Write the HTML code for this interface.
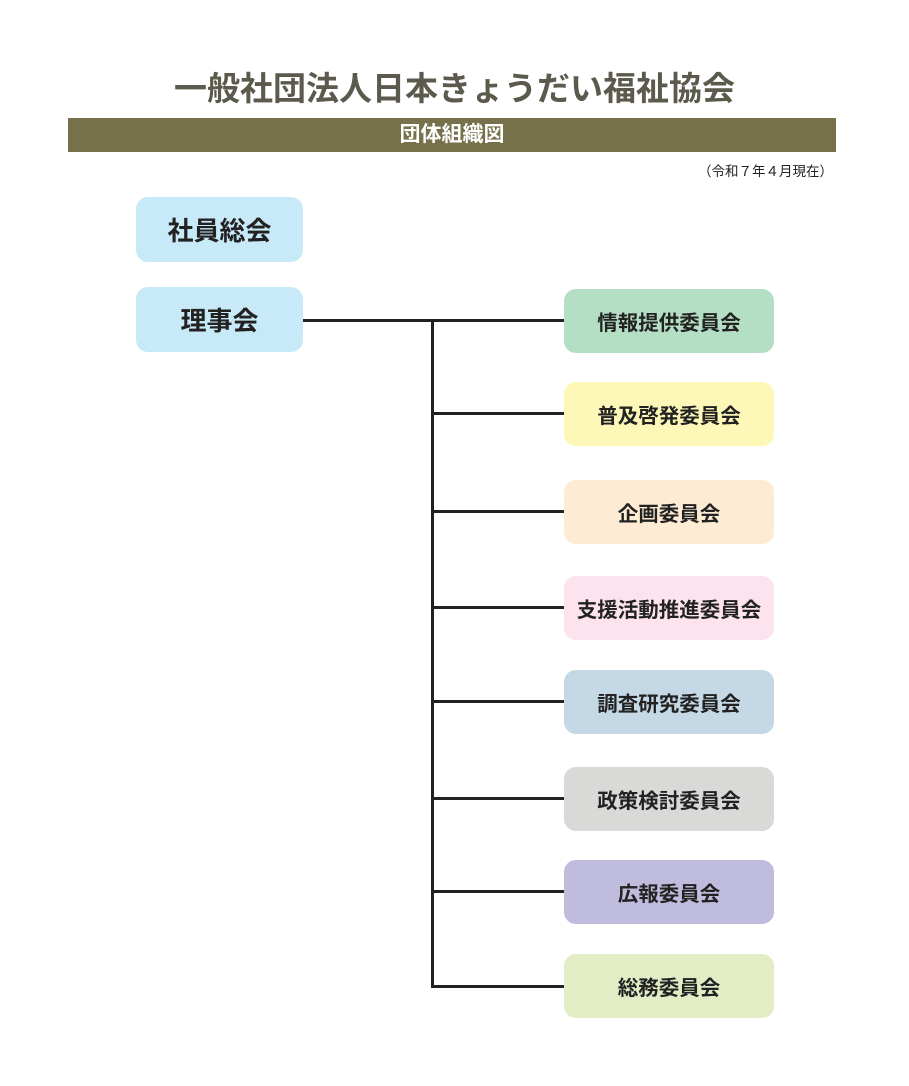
<!DOCTYPE html>
<html><head><meta charset="utf-8"><style>
body{margin:0;width:909px;height:1086px;background:#fff;position:relative;font-family:"Liberation Sans","Noto Sans CJK JP",sans-serif;overflow:hidden}
.a{position:absolute}
.t{left:0;width:909px;top:69px;text-align:center;font-size:33px;font-weight:bold;color:#5b5a4c;line-height:40px}
.band{left:68px;top:118px;width:768px;height:34px;background:#76714a;color:#fff;font-weight:bold;font-size:21px;text-align:center;line-height:34px}
.d{right:76px;top:160px;font-size:13.5px;color:#222}
.b{border-radius:12px;display:flex;align-items:center;justify-content:center;font-weight:bold;color:#222}
.l{left:136px;width:167px;height:65px;background:#c8e9f8;font-size:26px}
.r{left:564px;width:210px;height:64px;font-size:20.5px}
.h{background:#222;height:3px}
</style></head><body>
<div class="a t">一般社団法人日本きょうだい福祉協会</div>
<div class="a band">団体組織図</div>
<div class="a d">（令和７年４月現在）</div>
<div class="a b l" style="top:197px">社員総会</div>
<div class="a b l" style="top:287px">理事会</div>
<div class="a h" style="left:303px;top:319px;width:261px"></div>
<div class="a" style="left:431px;top:319px;width:3px;height:669px;background:#222"></div>
<div class="a h" style="left:431px;top:412px;width:133px"></div>
<div class="a h" style="left:431px;top:510px;width:133px"></div>
<div class="a h" style="left:431px;top:606px;width:133px"></div>
<div class="a h" style="left:431px;top:700px;width:133px"></div>
<div class="a h" style="left:431px;top:797px;width:133px"></div>
<div class="a h" style="left:431px;top:890px;width:133px"></div>
<div class="a h" style="left:431px;top:985px;width:133px"></div>
<div class="a b r" style="top:289px;background:#b5dfc5">情報提供委員会</div>
<div class="a b r" style="top:382px;background:#fdf8b8">普及啓発委員会</div>
<div class="a b r" style="top:480px;background:#fdebd3">企画委員会</div>
<div class="a b r" style="top:576px;background:#fce3ee">支援活動推進委員会</div>
<div class="a b r" style="top:670px;background:#c4d8e5">調査研究委員会</div>
<div class="a b r" style="top:767px;background:#d9dad8">政策検討委員会</div>
<div class="a b r" style="top:860px;background:#bfbcdd">広報委員会</div>
<div class="a b r" style="top:954px;background:#e2edc5">総務委員会</div>
</body></html>
